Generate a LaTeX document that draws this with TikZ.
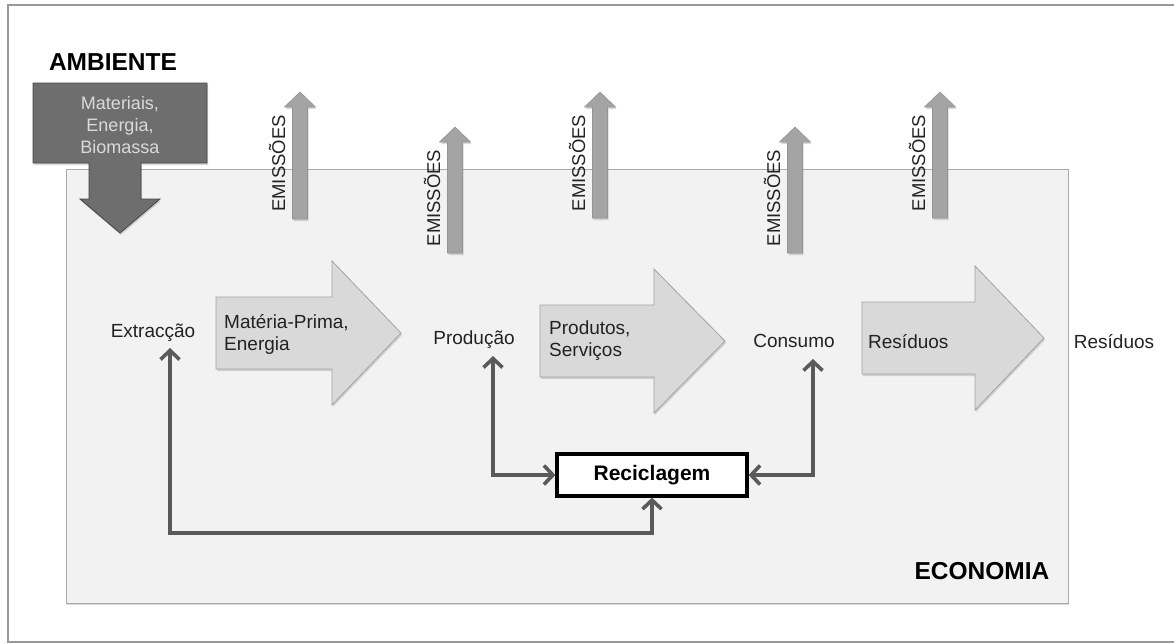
\documentclass[tikz,border=0pt]{standalone}
\usepackage{fontspec}
\setmainfont{Liberation Sans}
\usetikzlibrary{arrows.meta,shadows,positioning}

\definecolor{ecofill}{HTML}{F2F2F2}
\definecolor{ecoline}{HTML}{ABABAB}
\definecolor{flowfill}{HTML}{D9D9D9}
\definecolor{flowline}{HTML}{A3A3A3}
\definecolor{emifill}{HTML}{A4A4A4}
\definecolor{emiline}{HTML}{949494}
\definecolor{ambfill}{HTML}{6E6E6E}
\definecolor{ambline}{HTML}{454545}
\definecolor{ambtext}{HTML}{DADADA}
\definecolor{recline}{HTML}{5A5A5A}
\definecolor{txt}{HTML}{222222}

\tikzset{
  softshadow/.style={drop shadow={shadow xshift=1pt,shadow yshift=-2pt,opacity=0.3}},
  economia/.style={fill=ecofill,draw=ecoline,line width=1pt,softshadow},
  flow/.style={fill=flowfill,draw=flowline,line width=0.8pt,softshadow},
  emission/.style={fill=emifill,draw=emiline,line width=0.6pt,softshadow},
  ambiente/.style={fill=ambfill,draw=ambline,line width=0.8pt,softshadow},
  label/.style={inner sep=0pt,text=txt,font=\fontsize{19}{22}\selectfont},
  flowtext/.style={label,anchor=west,align=left},
  emitext/.style={inner sep=0pt,text=txt,rotate=90,font=\fontsize{18.5}{20}\selectfont},
  title/.style={inner sep=0pt,text=black,font=\fontsize{24.5}{28}\selectfont\bfseries},
  recbox/.style={draw=black,fill=white,line width=3.2pt,minimum width=190pt,
    minimum height=42pt,font=\fontsize{21}{24}\selectfont\bfseries},
  recyc/.style={draw=recline,line width=3.6pt,{Straight Barb[length=9pt,width=19pt]}-{Straight Barb[length=9pt,width=19pt]}}
}

% big grey flow arrow: left x, head base x, tip x, centre y
\newcommand\flowarrow[4]{%
  \draw[flow] (#1,#4-36) -- (#2,#4-36) -- (#2,#4-72) -- (#3,#4)
    -- (#2,#4+72) -- (#2,#4+36) -- (#1,#4+36) -- cycle;}

\begin{document}
\begin{tikzpicture}[x=1pt,y=-1pt]
\useasboundingbox (0,0) rectangle (1174,643);
\draw[gray!80,line width=1.2pt] (1180,5) -- (8,5) -- (8,642) -- (1180,642);

% economia
\draw[economia] (66,169) rectangle (1068,603);
\node[title] (econ) at (982,571) {ECONOMIA};

% emissoes
\foreach \x/\t/\b [count=\i] in {300/92/219, 455/127/253, 600/92/218, 795/127/253, 940/92/218} {
  \draw[emission] (\x-7.5,\b) -- (\x-7.5,\t+15) -- (\x-15.5,\t+15) -- (\x,\t)
    -- (\x+15.5,\t+15) -- (\x+7.5,\t+15) -- (\x+7.5,\b) -- cycle;
  \node[emitext] (emi\i) at (\x-23,{(\t+\b)/2+8}) {EMISSÕES};
}

% ambiente
\node[title] (amb) at (113,62) {AMBIENTE};
\draw[ambiente] (33,83) -- (207,83) -- (207,163) -- (141,163) -- (141,199) -- (160,199)
  -- (120,233) -- (80,199) -- (89,199) -- (89,163) -- (33,163) -- cycle;
\node[label,text=ambtext,align=center,font=\fontsize{18}{22}\selectfont] (mat) at (120,125)
  {Materiais,\\Energia,\\Biomassa};

% fluxos
\flowarrow{216}{332}{401}{333}
\flowarrow{540}{654}{725}{341}
\flowarrow{862}{975}{1044}{338}
\node[flowtext] (mp) at (224,334) {Matéria-Prima,\\Energia};
\node[flowtext] (ps) at (549,341) {Produtos,\\Serviços};
\node[flowtext] (res) at (868,342) {Resíduos};

\node[label] (extr) at (153,333) {Extracção};
\node[label] (prod) at (474,340) {Produção};
\node[label] (cons) at (794,341) {Consumo};
\node[label] (out) at (1114,342) {Resíduos};

% reciclagem
\node[recbox] (recic) at (652,475) {Reciclagem};
\coordinate (low) at (0,533);
\draw[recyc] (recic.south) -- (recic.south |- low) -| ([shift={(17,15)}]extr.center);
\draw[recyc] ([shift={(19,16)}]prod.center) |- (recic.west);
\draw[recyc] ([shift={(19,18)}]cons.center) |- (recic.east);
\end{tikzpicture}
\end{document}
